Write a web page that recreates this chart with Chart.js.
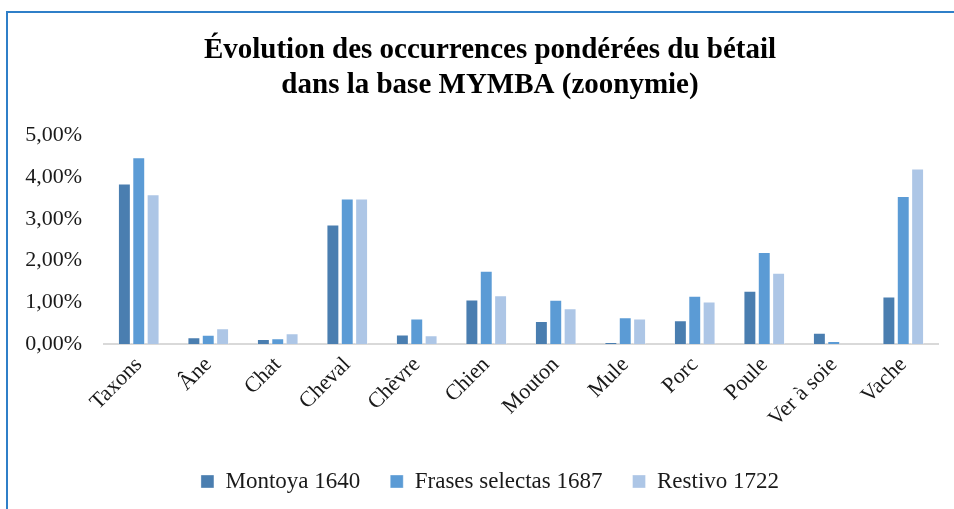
<!DOCTYPE html>
<html>
<head>
<meta charset="utf-8">
<script src="https://cdn.jsdelivr.net/npm/chart.js@4"></script>
<style>
  html, body { margin: 0; padding: 0; background: #fff; }
  #frame {
    position: absolute; left: 6px; top: 11px;
    width: 948px; height: 498px;
    border-left: 2px solid #2f7fc8; border-top: 2px solid #2f7fc8;
  }
  #wrap { position: absolute; left: 0; top: 0; width: 946px; height: 496px; }
</style>
</head>
<body>
<div id="frame"><div id="wrap"><canvas id="myChart"></canvas></div></div>
<script>
// données (en %)
const categories = ['Taxons', 'Âne', 'Chat', 'Cheval', 'Chèvre', 'Chien', 'Mouton', 'Mule', 'Porc', 'Poule', 'Ver à soie', 'Vache'];
const montoya1640 = [3.85, 0.16, 0.12, 2.87, 0.23, 1.07, 0.55, 0.05, 0.57, 1.28, 0.27, 1.14];
const frases1687 = [4.48, 0.22, 0.14, 3.49, 0.61, 1.76, 1.06, 0.64, 1.16, 2.21, 0.07, 3.55];
const restivo1722 = [3.59, 0.38, 0.26, 3.49, 0.21, 1.17, 0.86, 0.61, 1.02, 1.71, 0, 4.21];
const yTicks = [0, 1, 2, 3, 4, 5];

const serif = '"Liberation Serif", "Times New Roman", serif';
let chartArea = document.getElementById('myChart').getContext('2d');

const myChart = new Chart(chartArea, {
    type: 'bar',
    data: {
        labels: categories,
        datasets: [
            {
                label: 'Montoya 1640',
                data: montoya1640,
                backgroundColor: '#4a7eb0',
                borderColor: 'rgba(255,255,255,0.35)',
                borderWidth: 1
            },
            {
                label: 'Frases selectas 1687',
                data: frases1687,
                backgroundColor: '#5b9bd5',
                borderColor: 'rgba(255,255,255,0.35)',
                borderWidth: 1
            },
            {
                label: 'Restivo 1722',
                data: restivo1722,
                backgroundColor: '#adc6e6',
                borderColor: 'rgba(255,255,255,0.35)',
                borderWidth: 1
            }
        ]
    },
    options: {
        responsive: true,
        maintainAspectRatio: false,
        animation: false,
        categoryPercentage: 0.62,
        barPercentage: 0.9,
        layout: {
            padding: { left: 34, right: 16, top: 20, bottom: 6 }
        },
        plugins: {
            title: {
                display: true,
                text: ['Évolution des occurrences pondérées du bétail', 'dans la base MYMBA (zoonymie)'],
                color: '#000',
                font: { family: serif, size: 29, weight: 'bold', lineHeight: 1.2 },
                padding: { top: 0, bottom: 33 }
            },
            legend: {
                position: 'bottom',
                labels: {
                    color: '#1a1a1a',
                    font: { family: serif, size: 23 },
                    boxWidth: 13,
                    boxHeight: 13,
                    padding: 30
                }
            },
            tooltip: { enabled: false }
        },
        scales: {
            x: {
                grid: { display: false, drawTicks: false },
                border: { display: true, color: '#d9d9d9', width: 2 },
                afterFit: function(axis) {
                    // pas de marge ajoutée pour le débordement des étiquettes
                    axis.paddingLeft = 0;
                    axis.paddingRight = 0;
                },
                ticks: {
                    color: '#1a1a1a',
                    font: { family: serif, size: 22 },
                    minRotation: 45,
                    maxRotation: 45,
                    padding: 8
                }
            },
            y: {
                min: 0,
                max: 5,
                grid: { display: false, drawTicks: false },
                border: { display: false },
                afterBuildTicks: function(axis) {
                    axis.ticks = yTicks.map(function(v) { return { value: v }; });
                },
                afterFit: function(axis) {
                    axis.width = 62;
                    // les étiquettes débordent à gauche de l'axe, ne pas les couper
                    axis._computeLabelArea = function() { return undefined; };
                },
                ticks: {
                    color: '#1a1a1a',
                    font: { family: serif, size: 22 },
                    padding: 22,
                    callback: function(v) {
                        return v.toFixed(2).replace('.', ',') + '%';
                    }
                }
            }
        }
    }
});
</script>
</body>
</html>
